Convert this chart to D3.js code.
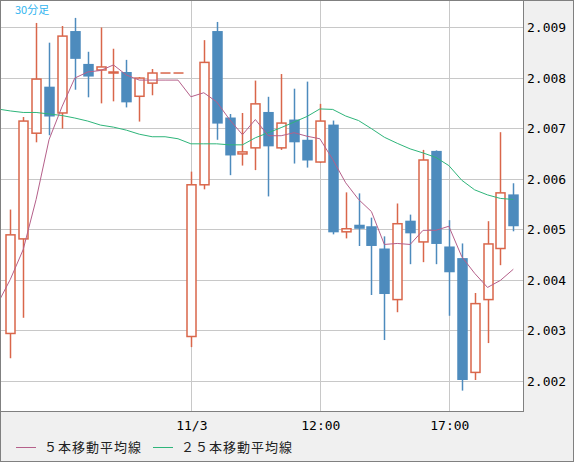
<!DOCTYPE html>
<meta charset="utf-8">
<style>
body { margin: 0; background: #f0f0f0; }
svg { display: block; }
.grid line { stroke: #c8c8c8; stroke-width: 1; }
.axis text { font-family: "DejaVu Sans Mono", monospace; font-size: 13px; fill: #000; }
.legend text { font-family: "Noto Sans CJK JP", sans-serif; font-size: 13px; fill: #222; }
</style>
<body>
<script src="https://d3js.org/d3.v7.min.js"></script>
<script>
// OHLC of the 30 minute candles
var open  = [2.00294,2.00481,2.00690,2.00782,2.00730,2.00892,2.00827,2.00815,2.00811,2.00811,
             2.00763,2.00789,2.00809,2.00809,2.00288,2.00588,2.00892,2.00721,2.00649,2.00661,
             2.00732,2.00661,2.00717,2.00677,2.00633,2.00707,2.00495,2.00509,2.00506,2.00462,
             2.00361,2.00517,2.00475,2.00655,2.00466,2.00443,2.00217,2.00361,2.00462,2.00569];
var high  = [2.00539,2.00722,2.00908,2.00869,2.00902,2.00918,2.00851,2.00899,2.00857,2.00835,
             2.00801,2.00817,2.00809,2.00809,2.00614,2.00874,2.00910,2.00728,2.00730,2.00794,
             2.00762,2.00807,2.00778,2.00792,2.00748,2.00715,2.00573,2.00571,2.00523,2.00486,
             2.00551,2.00529,2.00657,2.00656,2.00518,2.00472,2.00374,2.00516,2.00692,2.00591];
var low   = [2.00245,2.00325,2.00672,2.00686,2.00699,2.00776,2.00761,2.00749,2.00753,2.00741,
             2.00713,2.00765,2.00809,2.00809,2.00267,2.00579,2.00677,2.00607,2.00626,2.00617,
             2.00565,2.00657,2.00630,2.00622,2.00631,2.00490,2.00482,2.00467,2.00370,2.00281,
             2.00336,2.00431,2.00435,2.00431,2.00329,2.00181,2.00202,2.00275,2.00429,2.00496];
var close = [2.00489,2.00714,2.00797,2.00723,2.00882,2.00837,2.00802,2.00821,2.00811,2.00751,
             2.00799,2.00809,2.00809,2.00809,2.00588,2.00830,2.00709,2.00646,2.00653,2.00748,
             2.00664,2.00710,2.00672,2.00636,2.00714,2.00494,2.00501,2.00501,2.00467,2.00372,
             2.00511,2.00492,2.00637,2.00471,2.00415,2.00202,2.00353,2.00471,2.00572,2.00506];

// moving averages, index -1 .. 39
var ma5  = [2.00352,2.00401,2.00460,2.00559,2.00677,2.00742,2.00799,2.00811,2.00814,2.00825,2.00805,
            2.00795,2.00795,2.00795,2.00795,2.00762,2.00770,2.00752,2.00717,2.00687,2.00717,
            2.00685,2.00685,2.00691,2.00684,2.00679,2.00638,2.00592,2.00559,2.00535,2.00470,
            2.00472,2.00470,2.00498,2.00498,2.00506,2.00446,2.00413,2.00385,2.00399,2.00421];
var ma25 = [2.00738,2.00734,2.00731,2.00731,2.00728,2.00725,2.00720,2.00714,2.00706,2.00702,2.00696,
            2.00688,2.00683,2.00683,2.00679,2.00669,2.00669,2.00669,2.00667,2.00667,2.00681,
            2.00691,2.00701,2.00712,2.00723,2.00738,2.00737,2.00724,2.00715,2.00699,2.00682,
            2.00670,2.00659,2.00651,2.00642,2.00626,2.00597,2.00578,2.00568,2.00561,2.00559];

var yTicks = [2.002,2.003,2.004,2.005,2.006,2.007,2.008,2.009];
var xTicks = [{i: 14, label: "11/3"}, {i: 24, label: "12:00"}, {i: 34, label: "17:00"}];

var W = 574, H = 462, pw = 523, ph = 411;
var upCol = "#d9664a", downCol = "#4d8bbd";

var x = d3.scaleLinear().domain([-0.8, 39.75]).range([0, pw]);
var y = d3.scaleLinear().domain([2.002, 2.009]).range([381, 27]);

var svg = d3.select("body").append("svg").attr("width", W).attr("height", H);
svg.append("rect").attr("x", 0.5).attr("y", 0.5).attr("width", W - 1).attr("height", H - 1)
    .attr("fill", "#f0f0f0").attr("stroke", "#808080");
svg.append("rect").attr("x", 0.5).attr("y", 0.5).attr("width", pw).attr("height", ph)
    .attr("fill", "#fff");
svg.append("defs").append("clipPath").attr("id", "clip")
  .append("rect").attr("width", pw).attr("height", ph);

var grid = svg.append("g").attr("class", "grid");
grid.selectAll(".h").data(yTicks).enter().append("line")
    .attr("x1", 0).attr("x2", pw)
    .attr("y1", function(d) { return Math.round(y(d)) + 0.5; })
    .attr("y2", function(d) { return Math.round(y(d)) + 0.5; });
grid.selectAll(".v").data(xTicks).enter().append("line")
    .attr("y1", 0).attr("y2", ph)
    .attr("x1", function(d) { return Math.round(x(d.i)) + 0.5; })
    .attr("x2", function(d) { return Math.round(x(d.i)) + 0.5; });

var plot = svg.append("g").attr("clip-path", "url(#clip)");

// candles
var idx = d3.range(open.length);
var bw = 9;
idx.forEach(function(i) {
  var up = close[i] >= open[i];
  var col = up ? upCol : downCol;
  var cx = Math.round(x(i)) + 0.5;
  var top = y(Math.max(open[i], close[i])), bot = y(Math.min(open[i], close[i]));
  plot.append("line").attr("x1", cx).attr("x2", cx)
      .attr("y1", y(high[i])).attr("y2", up ? top : y(low[i]))
      .attr("stroke", col).attr("stroke-width", 1.5);
  if (up) plot.append("line").attr("x1", cx).attr("x2", cx)
      .attr("y1", bot).attr("y2", y(low[i])).attr("stroke", col).attr("stroke-width", 1.5);
  if (high[i] === low[i]) {
    plot.append("line").attr("x1", cx - 5).attr("x2", cx + 5)
        .attr("y1", y(open[i])).attr("y2", y(open[i])).attr("stroke", col).attr("stroke-width", 1.5);
  } else if (up) {
    plot.append("rect").attr("x", cx - bw / 2).attr("y", top)
        .attr("width", bw).attr("height", Math.max(bot - top, 1))
        .attr("fill", "#fff").attr("stroke", col).attr("stroke-width", 1.5);
  } else {
    plot.append("rect").attr("x", cx - bw / 2 - 0.75).attr("y", top)
        .attr("width", bw + 1.5).attr("height", Math.max(bot - top, 1.5))
        .attr("fill", col);
  }
});

var line = d3.line().x(function(d, i) { return x(i - 1); }).y(function(d) { return y(d); });
plot.append("path").datum(ma25).attr("d", line).attr("fill", "none")
    .attr("stroke", "#2eb57a").attr("stroke-width", 1);
plot.append("path").datum(ma5).attr("d", line).attr("fill", "none")
    .attr("stroke", "#b5608a").attr("stroke-width", 1);

svg.append("rect").attr("x", 0.5).attr("y", 0.5).attr("width", pw).attr("height", ph)
    .attr("fill", "none").attr("stroke", "#808080");

svg.append("text").attr("x", 15).attr("y", 14).text("30分足")
    .attr("fill", "#33b5f0").style("font-family", "Noto Sans CJK JP").style("font-size", "11px");

var ax = svg.append("g").attr("class", "axis");
ax.selectAll(".yl").data(yTicks).enter().append("text")
    .attr("x", 527).attr("y", function(d) { return y(d) + 5; })
    .text(function(d) { return d3.format(".3f")(d); });
ax.selectAll(".xl").data(xTicks).enter().append("text")
    .attr("x", function(d) { return x(d.i) + 1; }).attr("y", 430)
    .attr("text-anchor", "middle").text(function(d) { return d.label; });

var lg = svg.append("g").attr("class", "legend");
[{x: 16, c: "#b5608a", t: "５本移動平均線"}, {x: 153, c: "#2eb57a", t: "２５本移動平均線"}].forEach(function(d) {
  lg.append("line").attr("x1", d.x).attr("x2", d.x + 20).attr("y1", 447.5).attr("y2", 447.5)
      .attr("stroke", d.c);
  lg.append("text").attr("x", d.x + 28).attr("y", 452).text(d.t).style("letter-spacing", "1px");
});
</script>
</body>
